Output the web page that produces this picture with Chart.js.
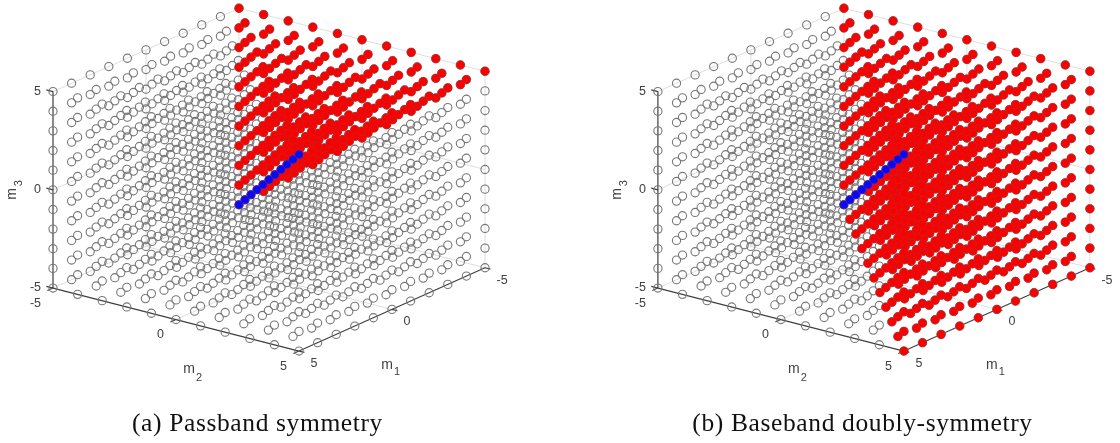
<!DOCTYPE html>
<html>
<head>
<meta charset="utf-8">
<title>Passband and baseband symmetry</title>
<script src="https://cdn.jsdelivr.net/npm/chart.js@4/dist/chart.umd.min.js"></script>
<style>
  html, body { margin: 0; background: #fff; }
  canvas { position: absolute; top: 0; filter: blur(0.35px); }
  #panelA { left: 0; }
  #panelB { left: 560px; }
</style>
</head>
<body>
<canvas id="panelA" width="560" height="443"></canvas>
<canvas id="panelB" width="560" height="443"></canvas>
<script>
// lattice
const m1Values = [-5, -4, -3, -2, -1, 0, 1, 2, 3, 4, 5];
const m2Values = [-5, -4, -3, -2, -1, 0, 1, 2, 3, 4, 5];
const m3Values = [-5, -4, -3, -2, -1, 0, 1, 2, 3, 4, 5];
const tickValues = [-5, 0, 5];
const tickLabels = ['-5', '0', '5'];
const captionA = '(a) Passband symmetry';
const captionB = '(b) Baseband doubly-symmetry';

// view of the 3d box, px per unit
const M1_DIR = [-18.6, -8.33];
const M2_DIR = [24.6, -6.3];
const M3_DIR = [0, 19.65];

function project(m1, m2, m3) {
    return {
        x: m1 * M1_DIR[0] + m2 * M2_DIR[0] + m3 * M3_DIR[0],
        y: m1 * M1_DIR[1] + m2 * M2_DIR[1] + m3 * M3_DIR[1]
    };
}

function latticePoints(test) {
    var pts = [];
    m1Values.forEach(m1 => m2Values.forEach(m2 => m3Values.forEach(m3 => {
        if (test(m1, m2, m3)) pts.push(project(m1, m2, m3));
    })));
    return pts;
}

// line segments broken with NaN so one dataset can hold them all
function segments(list) {
    var pts = [];
    list.forEach(s => {
        pts.push(project(s[0], s[1], s[2]), project(s[3], s[4], s[5]), { x: NaN, y: NaN });
    });
    return pts;
}

const gridSegs = [
    [5, -5, 5, -5, -5, 5], [-5, -5, 5, -5, 5, 5],
    [-5, -5, -5, -5, -5, 5], [-5, 5, -5, -5, 5, 5],
    [-5, -5, -5, 5, -5, -5], [-5, -5, -5, -5, 5, -5],
    [0, -5, -5, 0, -5, 5], [-5, 0, -5, -5, 0, 5],
    [5, -5, 0, -5, -5, 0], [-5, -5, 0, -5, 5, 0],
    [0, -5, -5, 0, 5, -5], [-5, 0, -5, 5, 0, -5]
];
const axisSegs = [
    [5, -5, -5, 5, -5, 5], [5, -5, -5, 5, 5, -5], [5, 5, -5, -5, 5, -5]
];
tickValues.forEach(t => {
    axisSegs.push([5, -5, t, 5, -5.27, t]);
    axisSegs.push([5, t, -5, 5.3, t, -5]);
    axisSegs.push([t, 5, -5, t, 5.22, -5]);
});

const labelPlugin = {
    id: 'boxLabels',
    afterDraw(chart, args, opts) {
        var ctx = chart.ctx, sx = chart.scales.x, sy = chart.scales.y;
        var px = p => ({ x: sx.getPixelForValue(p.x), y: sy.getPixelForValue(p.y) });
        var text = (s, x, y, align, font) => {
            ctx.font = font;
            ctx.textAlign = align;
            ctx.textBaseline = 'middle';
            ctx.fillText(s, x, y);
        };
        const tickFont = '12.5px "Liberation Sans"';
        const nameFont = '14px "Liberation Sans"';
        const subFont = '11px "Liberation Sans"';
        ctx.save();
        ctx.fillStyle = '#404040';
        tickValues.forEach((t, i) => {
            var a = px(project(5, -5, t));
            text(tickLabels[i], a.x - 12, a.y - 0.5, 'right', tickFont);
            var b = px(project(5, t, -5));
            text(tickLabels[i], b.x - 12, b.y + 15, 'right', tickFont);
            var c = px(project(t, 5, -5));
            text(tickLabels[i], c.x + 11.5, c.y + 12.5, 'left', tickFont);
        });
        var m2 = px(project(5, 0, -5));
        text('m', m2.x + 13, m2.y + 50, 'center', nameFont);
        text('2', m2.x + 23, m2.y + 58, 'center', subFont);
        var m1 = px(project(0, 5, -5));
        text('m', m1.x - 5, m1.y + 55.5, 'center', nameFont);
        text('1', m1.x + 5, m1.y + 63, 'center', subFont);
        var m3 = px(project(5, -5, 0));
        ctx.translate(m3.x - 41, m3.y + 4);
        ctx.rotate(-Math.PI / 2);
        text('m', 0, 0, 'center', nameFont);
        text('3', 10.5, 7, 'center', subFont);
        ctx.restore();
        ctx.save();
        ctx.fillStyle = '#111';
        ctx.letterSpacing = opts.spacing + 'px';
        ctx.font = '25.5px "Liberation Serif"';
        ctx.textAlign = 'center';
        ctx.textBaseline = 'alphabetic';
        ctx.fillText(opts.caption, opts.captionX, 431);
        ctx.restore();
    }
};

function makePanel(id, isRed, cx, caption, captionX) {
    const W = 560, H = 443, cy = 179.65;
    return new Chart(document.getElementById(id), {
        type: 'scatter',
        plugins: [labelPlugin],
        data: {
            datasets: [
                {
                    label: 'm1 = m2 = m3',
                    data: latticePoints((a, b, c) => a === b && b === c),
                    pointRadius: 4,
                    pointBackgroundColor: '#0a0af0',
                    pointBorderColor: '#2a2ad0',
                    pointBorderWidth: 0.5
                },
                {
                    label: 'symmetric',
                    data: latticePoints(isRed),
                    pointRadius: 4.3,
                    pointBackgroundColor: '#fb0000',
                    pointBorderColor: 'rgba(150,60,60,0.7)',
                    pointBorderWidth: 0.7
                },
                {
                    label: 'all',
                    data: latticePoints(() => true),
                    pointRadius: 4.1,
                    pointBackgroundColor: 'rgba(0,0,0,0)',
                    pointBorderColor: '#787878',
                    pointBorderWidth: 1.1
                },
                {
                    label: 'axes',
                    data: segments(axisSegs),
                    showLine: true,
                    spanGaps: false,
                    borderColor: '#404040',
                    borderWidth: 1.2,
                    pointRadius: 0
                },
                {
                    label: 'grid',
                    data: segments(gridSegs),
                    showLine: true,
                    spanGaps: false,
                    borderColor: '#dedede',
                    borderWidth: 1,
                    pointRadius: 0
                }
            ]
        },
        options: {
            responsive: false,
            animation: false,
            layout: { padding: 0, autoPadding: false },
            scales: {
                x: { type: 'linear', display: false, min: -cx, max: W - cx },
                y: { type: 'linear', display: false, min: cy - H, max: cy }
            },
            plugins: {
                legend: { display: false },
                tooltip: { enabled: false },
                boxLabels: { caption: caption, captionX: captionX, spacing: 0.62 }
            }
        }
    });
}

makePanel('panelA', (a, b, c) => a <= b && b <= c, 269, captionA, 257.5);
makePanel('panelB', (a, b, c) => a <= b, 313.9, captionB, 302.5);
</script>
</body>
</html>
